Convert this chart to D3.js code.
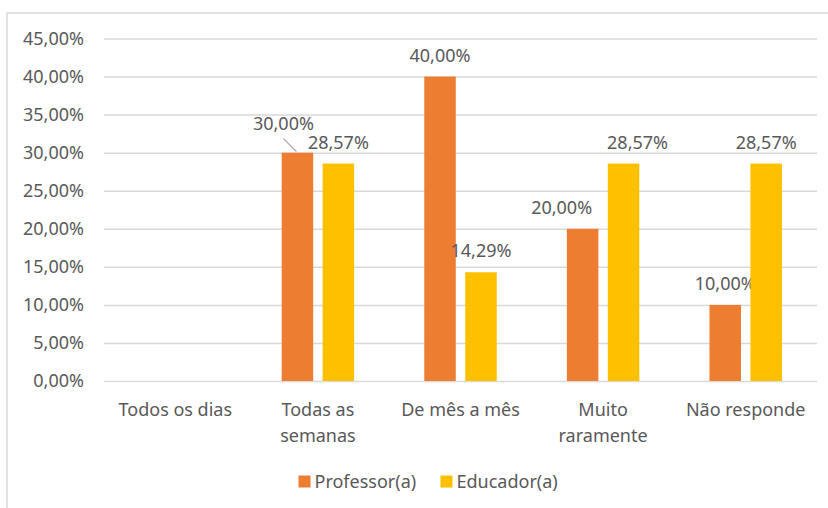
<!DOCTYPE html>
<html>
<head>
<meta charset="utf-8">
<script src="https://cdn.jsdelivr.net/npm/d3@7"></script>
<style>
  html, body { margin: 0; padding: 0; background: #fff; }
  svg { display: block; }
  text { font-family: "Noto Sans", "Liberation Sans", sans-serif; fill: #595959; }
</style>
</head>
<body>
<svg id="chart" width="828" height="508"></svg>
<script>
// ---- data ----
const categories = [["Todos os dias"], ["Todas as", "semanas"], ["De mês a mês"], ["Muito", "raramente"], ["Não responde"]];
const seriesNames = ["Professor(a)", "Educador(a)"];
const professor = [null, 30.00, 40.00, 20.00, 10.00];
const educador  = [null, 28.57, 14.29, 28.57, 28.57];
const yTicks = [0, 5, 10, 15, 20, 25, 30, 35, 40, 45];
const colors = ["#ED7D31", "#FFC000"];

// manual label adjustments (series index, category index) -> [dx, dy, leader]
const labelAdjust = {
  "0-1": [-14, -8, true],
  "0-3": [-21, 0, false],
  "1-3": [14, 0, false]
};

const svg = d3.select("#chart");
const W = 828, H = 508;
const plot = { left: 104, right: 817, top: 38.5, bottom: 381 };

// chart frame
svg.append("rect").attr("x", 7).attr("y", 13).attr("width", W + 10).attr("height", H + 10)
  .attr("fill", "#fff").attr("stroke", "#D9D9D9").attr("stroke-width", 1.5);

const x = d3.scaleBand().domain(d3.range(categories.length)).range([plot.left, plot.right]).paddingInner(0).paddingOuter(0);
const y = d3.scaleLinear().domain([0, 45]).range([plot.bottom, plot.top]);

// gridlines + y axis labels
const yAxis = d3.axisLeft(y).tickValues(yTicks)
  .tickFormat(d => d.toFixed(2).replace(".", ",") + "%")
  .tickSize(-(plot.right - plot.left)).tickPadding(20);
const gy = svg.append("g").attr("transform", `translate(${plot.left},0)`).call(yAxis);
gy.select(".domain").remove();
gy.selectAll(".tick line").attr("stroke", "#D9D9D9").attr("stroke-width", 1.5);
gy.selectAll(".tick text").attr("font-size", 18).attr("fill", "#595959")
  .attr("font-family", '"Noto Sans", "Liberation Sans", sans-serif');

// bars
const bw = x.bandwidth() / 4.527;
const gap = bw * 0.3;
const series = [professor, educador];
series.forEach((vals, si) => {
  const offset = (x.bandwidth() - (2 * bw + gap)) / 2 + si * (bw + gap);
  const data = vals.map((v, i) => ({ v, i })).filter(d => d.v !== null);
  svg.append("g").selectAll("rect").data(data).join("rect")
    .attr("x", d => x(d.i) + offset)
    .attr("y", d => y(d.v))
    .attr("width", bw)
    .attr("height", d => y(0) - y(d.v))
    .attr("fill", colors[si]);

  // labels
  const lg = svg.append("g");
  data.forEach(d => {
    const cx = x(d.i) + offset + bw / 2;
    const top = y(d.v);
    const adj = labelAdjust[si + "-" + d.i] || [0, 0, false];
    const lx = cx + adj[0], ly = top - 15 + adj[1];
    lg.append("text").attr("x", lx).attr("y", ly).attr("text-anchor", "middle")
      .attr("font-size", 18).text(d.v.toFixed(2).replace(".", ",") + "%");
    if (adj[2]) {
      lg.append("line").attr("x1", lx).attr("y1", ly + 9).attr("x2", cx - 1).attr("y2", top - 1)
        .attr("stroke", "#A6A6A6").attr("stroke-width", 1.2);
    }
  });
});

// category labels
const cg = svg.append("g");
categories.forEach((lines, i) => {
  const t = cg.append("text").attr("text-anchor", "middle").attr("font-size", 18);
  lines.forEach((ln, k) => {
    t.append("tspan").attr("x", x(i) + x.bandwidth() / 2).attr("y", 415.5 + k * 26).text(ln);
  });
});

// legend
const legendX = [298.5, 440.5];
const lg = svg.append("g");
seriesNames.forEach((n, i) => {
  lg.append("rect").attr("x", legendX[i]).attr("y", 475.5).attr("width", 12).attr("height", 12).attr("fill", colors[i]);
  lg.append("text").attr("x", legendX[i] + 16).attr("y", 488).attr("font-size", 18).text(n);
});
</script>
</body>
</html>
